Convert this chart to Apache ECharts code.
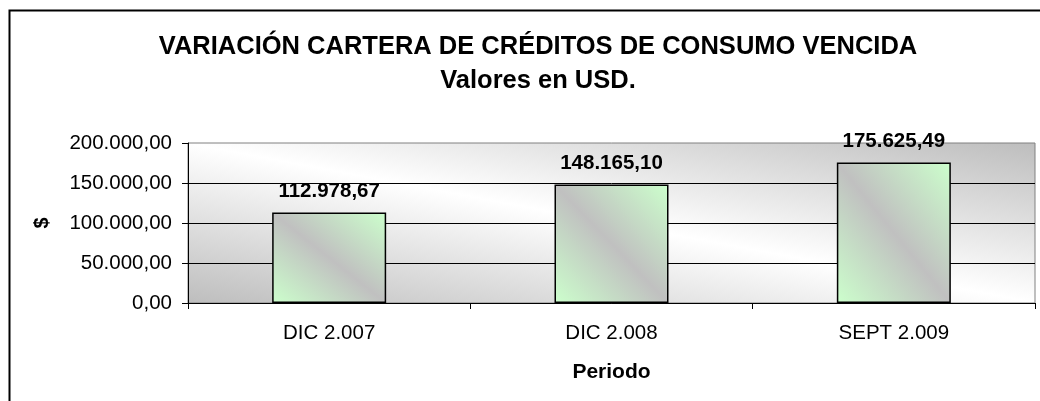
<!DOCTYPE html>
<html>
<head>
<meta charset="utf-8">
<script src="https://cdn.jsdelivr.net/npm/echarts@6/dist/echarts.min.js"></script>
<style>
  html, body { margin: 0; padding: 0; background: #fff; }
  #chart { width: 1040px; height: 401px; }
</style>
</head>
<body>
<div id="chart"></div>
<script>
const periods = ['DIC 2.007', 'DIC 2.008', 'SEPT 2.009'];
const carteraVencida = [112978.67, 148165.10, 175625.49];
const yTicks = [0, 50000, 100000, 150000, 200000];

const FONT = '"Liberation Sans", Arial, sans-serif';

// 1.234,56 style
function fmt(v) {
  const parts = v.toFixed(2).split('.');
  return parts[0].replace(/\B(?=(\d{3})+(?!\d))/g, '.') + ',' + parts[1];
}

// diagonal gradient whose iso-lines follow the top-left -> bottom-right diagonal (excel style)
function diagGradient(w, h, stops) {
  const L2 = w * w + h * h;
  const dx = (h * h) / L2;
  const dy = (w * w) / L2;
  return new echarts.graphic.LinearGradient(0.5 - dx, 0.5 + dy, 0.5 + dx, 0.5 - dy, stops);
}

const chart = echarts.init(document.getElementById('chart'));

const plotW = 847, plotH = 160, barW = 114;

chart.setOption({
  animation: false,
  textStyle: { fontFamily: FONT },
  title: [
    {
      text: 'VARIACIÓN CARTERA DE CRÉDITOS DE CONSUMO VENCIDA',
      left: 533, top: 29, textAlign: 'center',
      textStyle: { fontSize: 25.5, fontWeight: 'bold', color: '#000', fontFamily: FONT }
    },
    {
      text: 'Valores en USD.',
      left: 533, top: 63, textAlign: 'center',
      textStyle: { fontSize: 25.5, fontWeight: 'bold', color: '#000', fontFamily: FONT }
    }
  ],
  graphic: [
    {
      type: 'rect',
      shape: { x: 9.5, y: 10.5, width: 1200, height: 600 },
      style: { fill: null, stroke: '#000', lineWidth: 2 },
      silent: true
    }
  ],
  grid: {
    left: 188, right: 5, top: 143, bottom: 98,
    show: true,
    borderColor: '#808080',
    borderWidth: 1,
    backgroundColor: diagGradient(plotW, plotH, [
      { offset: 0, color: '#bdbdbd' },
      { offset: 0.5, color: '#ffffff' },
      { offset: 1, color: '#bdbdbd' }
    ])
  },
  xAxis: {
    type: 'category',
    data: periods,
    name: 'Periodo',
    nameLocation: 'middle',
    nameGap: 59,
    nameTextStyle: { fontSize: 21, fontWeight: 'bold', color: '#000', fontFamily: FONT },
    axisLine: { lineStyle: { color: '#000', width: 1 } },
    axisTick: { show: true, length: 6, lineStyle: { color: '#000' } },
    axisLabel: { fontSize: 20.5, color: '#000', margin: 20, fontFamily: FONT }
  },
  yAxis: {
    type: 'value',
    min: 0, max: 200000, interval: 50000,
    name: '$',
    nameLocation: 'middle',
    nameRotate: 90,
    nameGap: 136,
    nameTextStyle: { fontSize: 20, fontWeight: 'bold', color: '#000', fontFamily: FONT },
    axisLine: { show: true, lineStyle: { color: '#000', width: 1 } },
    axisTick: { show: true, length: 6, lineStyle: { color: '#000' } },
    axisLabel: {
      fontSize: 20.5, color: '#000', margin: 16, fontFamily: FONT,
      formatter: v => yTicks.indexOf(v) >= 0 ? fmt(v) : ''
    },
    splitLine: { show: true, showMaxLine: false, lineStyle: { color: '#000', width: 1 } }
  },
  series: [
    {
      type: 'bar',
      data: carteraVencida,
      barWidth: barW,
      itemStyle: {
        borderColor: '#000',
        borderWidth: 1.5,
        color: function (p) {
          const h = p.value / 200000 * plotH;
          return diagGradient(barW, h, [
            { offset: 0, color: '#ccffcc' },
            { offset: 0.5, color: '#c0c0c0' },
            { offset: 1, color: '#ccffcc' }
          ]);
        }
      },
      label: {
        show: true,
        position: 'top',
        distance: 11,
        fontSize: 20.5,
        fontWeight: 'bold',
        color: '#000',
        fontFamily: FONT,
        formatter: p => fmt(p.value)
      }
    }
  ]
});
</script>
</body>
</html>
